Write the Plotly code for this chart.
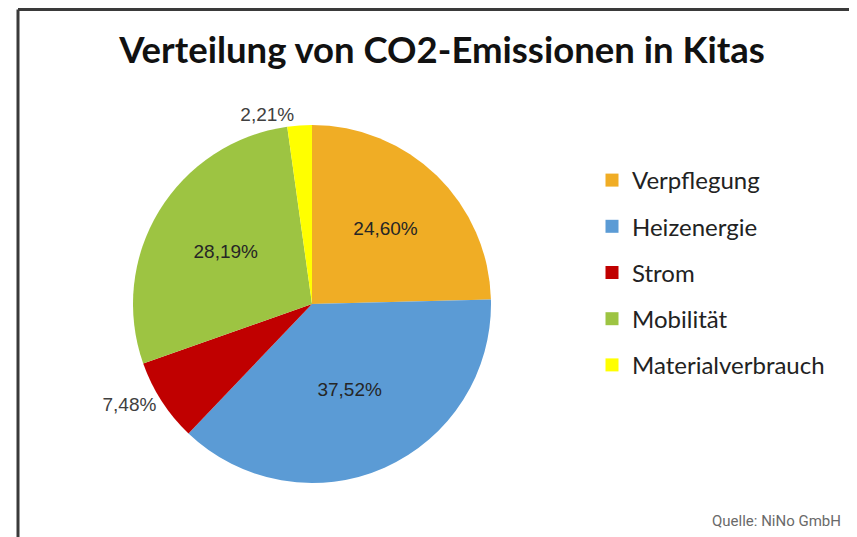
import plotly.graph_objects as go

categories = ["Verpflegung", "Heizenergie", "Strom", "Mobilität", "Materialverbrauch"]
values = [24.60, 37.52, 7.48, 28.19, 2.21]
value_labels = ["24,60%", "37,52%", "7,48%", "28,19%", "2,21%"]
colors = ["#F0AD25", "#5B9BD5", "#C00000", "#9DC442", "#FFFF00"]
text_positions = ["inside", "inside", "outside", "inside", "outside"]

W, H = 857, 537
OFF = 8  # page body margin


def px(x):
    return (x - OFF) / W


def py(y):
    return 1 - (y - OFF) / H


fig = go.Figure()
fig.add_trace(go.Pie(
    labels=categories,
    values=values,
    text=value_labels,
    texttemplate="%{text}",
    textposition=text_positions,
    insidetextorientation="horizontal",
    textfont=dict(family="Liberation Sans, Arial", size=19, color="#262626"),
    outsidetextfont=dict(family="Liberation Sans, Arial", size=19, color="#404040"),
    marker=dict(colors=colors, line=dict(width=0)),
    sort=False,
    direction="clockwise",
    rotation=0,
    showlegend=False,
    domain=dict(x=[px(133), px(491)], y=[py(483), py(125)]),
))

for cat, col in zip(categories, colors):
    fig.add_trace(go.Scatter(
        x=[None], y=[None], mode="markers", name=cat, legendgroup=cat,
        marker=dict(symbol="square", size=13, color=col),
    ))

fig.update_layout(
    width=W, height=H,
    margin=dict(l=0, r=0, t=0, b=0),
    paper_bgcolor="white", plot_bgcolor="white",
    xaxis=dict(visible=False), yaxis=dict(visible=False),
    title=dict(
        text="<b>Verteilung von CO2-Emissionen in Kitas</b>",
        x=px(442), xanchor="center", y=py(50), yanchor="middle",
        font=dict(family="Lato", size=36.5, color="#111111"),
    ),
    legend=dict(
        x=px(592), xanchor="left", y=py(158), yanchor="top",
        font=dict(family="Lato", size=24, color="#222222"),
        tracegroupgap=12, bgcolor="rgba(0,0,0,0)",
    ),
    shapes=[
        dict(type="line", xref="paper", yref="paper", x0=px(18), x1=1.0,
             y0=py(9.5), y1=py(9.5), line=dict(color="#3a3a3a", width=3)),
        dict(type="line", xref="paper", yref="paper", x0=px(18), x1=px(18),
             y0=0, y1=py(9.5), line=dict(color="#3a3a3a", width=3)),
    ],
    annotations=[
        dict(text="Quelle: NiNo GmbH", xref="paper", yref="paper",
             x=px(843), xanchor="right", y=py(521), yanchor="middle",
             showarrow=False, font=dict(family="Roboto", size=15, color="#6a6a6a")),
    ],
)

fig.write_html("out.html")
